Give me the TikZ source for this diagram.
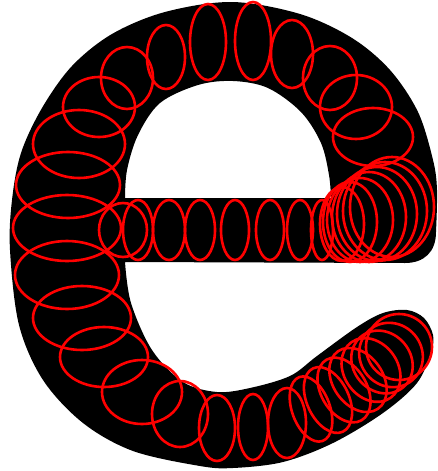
\documentclass[tikz,border=0pt]{standalone}
\usepackage{tikz}

\begin{document}
\begin{tikzpicture}[x=1pt,y=-1pt,
    elo/.style={red, line width=2.6pt}]
    \useasboundingbox (0,0) rectangle (437,471);

    % Letra e
    \fill[black,even odd rule] (125,262) -- (405,263) .. controls (424,263) and (436,252) .. (436,232)
      -- plot[smooth,tension=0.55] coordinates {(436,232) (437,190) (433,160) (418,112) (390,70) (352,38)
         (300,14) (232,2) (165,12) (112,34) (72,66) (42,108) (21,153) (12,200) (10,250) (19,325)
         (43,380) (83,423) (133,451) (200,466) (233,468) (283,462) (333,443) (383,413) (417,383)
         (431,352) (433,335) (424,318) (407,310) (383,313) (357,327) (317,356) (290,376) (250,388)
         (217,392) (183,382) (152,350) (131,303) (125,262)} -- cycle
      (125,198) -- (331,198)
      -- plot[smooth,tension=0.55] coordinates {(331,198) (329,175) (321,143) (301,112) (268,88)
         (233,81) (198,85) (160,103) (138,135) (127,170) (125,198)} -- cycle;

    % Bojo
    \foreach \cx/\cy/\rx/\ry in {373/137/40/29, 356/107/36/32, 330/78/27/32, 292/54/21/34,
        253/41/18/39, 208/42/18/38, 166/57/19/32, 127/78/26/31, 99/107/36/30, 79/144/46/34,
        68/185/52/33, 67/228/54/33, 67/275/52/34, 82/318/49/32, 104/357/44/30, 142/392/40/32,
        180/414/28/33, 217/428/18/33, 253/427/15/33, 287/423/19/35}
      \draw[elo] (\cx,\cy) ellipse [x radius=\rx, y radius=\ry];

    % Barra
    \foreach \cx/\rx/\ry in {123/24/27, 138/15/30, 169/16/30, 200/15/30, 235/14/30, 270/14/30,
        300/13/30, 322/11/30}
      \draw[elo] (\cx,230) ellipse [x radius=\rx, y radius=\ry];

    % Juncao
    \foreach \cx/\cy/\rx/\ry in {342/224/22/37, 350/222/27/40, 360/220/33/42, 369/217/37/45,
        377/214/40/47, 385/211/42/49, 392/207/42/50}
      \draw[elo] (\cx,\cy) ellipse [x radius=\rx, y radius=\ry];

    % Cauda
    \foreach \cx/\cy/\a/\rx/\ry in {311/409/20/19/34, 328/400/25/21/35, 344/390/30/23/35,
        358/380/35/25/35, 371/370/35/27/34, 382/362/40/29/33, 391/355/40/31/33, 399/347/40/33/33}
      \draw[elo,rotate around={\a:(\cx,\cy)}] (\cx,\cy) ellipse [x radius=\rx, y radius=\ry];
\end{tikzpicture}
\end{document}
